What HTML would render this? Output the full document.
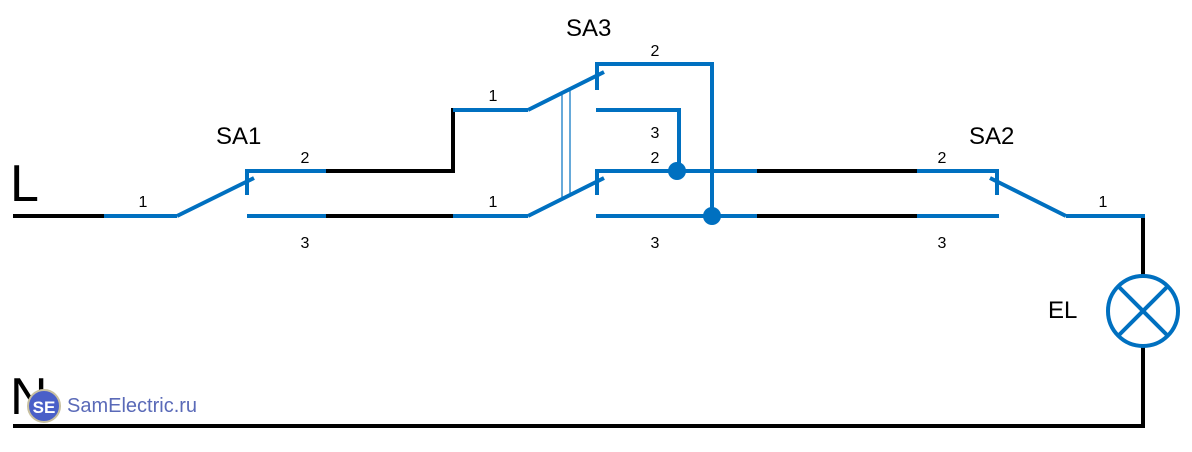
<!DOCTYPE html>
<html><head><meta charset="utf-8"><style>
html,body{margin:0;padding:0;background:#fff;}
svg{display:block;}
text{font-family:"Liberation Sans",sans-serif;fill:#000;}
</style></head><body>
<svg width="1192" height="452" viewBox="0 0 1192 452" xmlns="http://www.w3.org/2000/svg">
<g stroke="#000" stroke-width="4" fill="none" stroke-linecap="square">
<line x1="15" y1="216" x2="104" y2="216"/>
<polyline points="326,171 453,171 453,110"/>
<line x1="326" y1="216" x2="453" y2="216"/>
<line x1="757" y1="171" x2="917" y2="171"/>
<line x1="757" y1="216" x2="917" y2="216"/>
<line x1="1143" y1="216" x2="1143" y2="275"/>
<polyline points="1143,346 1143,426 15,426"/>
</g>
<g stroke="#0070c0" stroke-width="4" fill="none">
<line x1="104" y1="216" x2="177" y2="216"/>
<line x1="177" y1="216" x2="254" y2="178"/>
<polyline points="247,195 247,171 326,171"/>
<line x1="247" y1="216" x2="326" y2="216"/>
<line x1="453" y1="110" x2="528" y2="110"/>
<line x1="528" y1="110" x2="604" y2="72"/>
<line x1="453" y1="216" x2="528" y2="216"/>
<line x1="528" y1="216" x2="604" y2="178"/>
<polyline points="597,90 597,64 712,64 712,216"/>
<polyline points="596,110 679,110 679,171"/>
<polyline points="597,195 597,171 757,171"/>
<line x1="596" y1="216" x2="757" y2="216"/>
<line x1="917" y1="171" x2="999" y2="171"/>
<line x1="917" y1="216" x2="999" y2="216"/>
<line x1="997" y1="171" x2="997" y2="195"/>
<line x1="990" y1="178" x2="1066" y2="216"/>
<line x1="1066" y1="216" x2="1145" y2="216"/>
<circle cx="1143" cy="311" r="35"/>
<line x1="1118" y1="286" x2="1168" y2="336"/>
<line x1="1168" y1="286" x2="1118" y2="336"/>
</g>
<g stroke="#0070c0" stroke-width="1.2">
<line x1="562" y1="93" x2="562" y2="197"/>
<line x1="570" y1="89" x2="570" y2="193"/>
</g>
<circle cx="677" cy="171" r="9" fill="#0070c0"/>
<circle cx="712" cy="216" r="9" fill="#0070c0"/>
<g font-size="24">
<text x="216" y="144">SA1</text>
<text x="566" y="36">SA3</text>
<text x="969" y="144">SA2</text>
<text x="1048" y="318">EL</text>
</g>
<g font-size="52"><text x="10" y="201">L</text><text x="10" y="414">N</text></g>
<g font-size="16" text-anchor="middle">
<text x="305" y="163">2</text>
<text x="143" y="207">1</text>
<text x="305" y="248">3</text>
<text x="493" y="101">1</text>
<text x="493" y="207">1</text>
<text x="655" y="56">2</text>
<text x="655" y="138">3</text>
<text x="655" y="163">2</text>
<text x="655" y="248">3</text>
<text x="942" y="163">2</text>
<text x="942" y="248">3</text>
<text x="1103" y="207">1</text>
</g>
<circle cx="44" cy="406" r="16" fill="#4a5fc8" stroke="#c8c0a0" stroke-width="2"/>
<text x="44" y="413" font-size="17" font-weight="bold" text-anchor="middle" style="fill:#fff">SE</text>
<text x="67" y="412" font-size="20" style="fill:#5a6ab8">SamElectric.ru</text>
</svg>
</body></html>
